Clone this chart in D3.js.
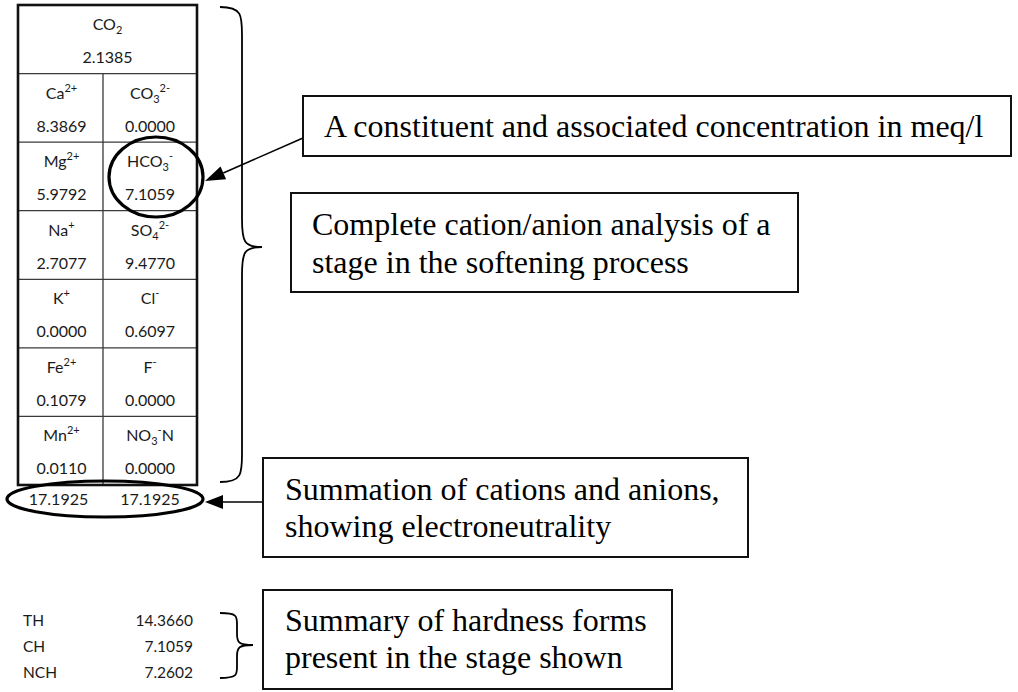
<!DOCTYPE html>
<html>
<head>
<meta charset="utf-8">
<script src="https://cdn.jsdelivr.net/npm/d3@7/dist/d3.min.js"></script>
<style>
  html, body { margin: 0; padding: 0; background: #ffffff; }
  svg { display: block; }
</style>
</head>
<body>
<script>
// ---------- DATA ----------
const headerIon = { base: "CO", sub: "2" };
const headerValue = 2.1385;

const cationIons = [
  { base: "Ca", sup: "2+" },
  { base: "Mg", sup: "2+" },
  { base: "Na", sup: "+" },
  { base: "K", sup: "+" },
  { base: "Fe", sup: "2+" },
  { base: "Mn", sup: "2+" }
];
const cationValues = [8.3869, 5.9792, 2.7077, 0.0000, 0.1079, 0.0110];

const anionIons = [
  { base: "CO", sub: "3", sup: "2-" },
  { base: "HCO", sub: "3", sup: "-" },
  { base: "SO", sub: "4", sup: "2-" },
  { base: "Cl", sup: "-" },
  { base: "F", sup: "-" },
  { base: "NO", sub: "3", sup: "-", tail: "N" }
];
const anionValues = [0.0000, 7.1059, 9.4770, 0.6097, 0.0000, 0.0000];

const sumValues = [17.1925, 17.1925];

const hardnessLabels = ["TH", "CH", "NCH"];
const hardnessValues = [14.3660, 7.1059, 7.2602];

const calloutLines = [
  ["A constituent and associated concentration in meq/l"],
  ["Complete cation/anion analysis of a", "stage in the softening process"],
  ["Summation of cations and anions,", "showing electroneutrality"],
  ["Summary of hardness forms", "present in the stage shown"]
];

// ---------- LAYOUT ----------
const W = 1018, H = 692;
const svg = d3.select("body").append("svg").attr("width", W).attr("height", H);

const tableFont = "Lato, 'Open Sans', sans-serif";
const serifFont = "'Liberation Serif', 'Times New Roman', serif";
const ink = "#1a1a1a";
const fmt = d3.format(".4f");

const table = { x0: 18, x1: 197, y0: 5, y1: 485, divider: 103 };
const rowY = d3.scaleBand().domain(d3.range(7)).range([table.y0, table.y1]);
const colX = d3.scaleOrdinal().domain(["cation", "anion"]).range([
  (table.x0 + table.divider) / 2 + 1,
  (table.divider + table.x1) / 2
]);

function writeIon(textSel, ion) {
  textSel.append("tspan").text(ion.base);
  let shift = 0;
  if (ion.sub) {
    textSel.append("tspan").attr("dy", 4).attr("font-size", 11).text(ion.sub);
    shift += 4;
  }
  if (ion.sup) {
    const d = ion.sub ? -11 : -7;
    textSel.append("tspan").attr("dy", d).attr("font-size", 11).text(ion.sup);
    shift += d;
  }
  if (ion.tail) {
    textSel.append("tspan").attr("dy", -shift).text(ion.tail);
  }
}

const g = svg.append("g");

// inner grid lines
const inner = g.append("g").attr("stroke", "#3a3a3a").attr("stroke-width", 1.3);
d3.range(1, 7).forEach(i => {
  inner.append("line")
    .attr("x1", table.x0).attr("x2", table.x1)
    .attr("y1", rowY(i)).attr("y2", rowY(i));
});
inner.append("line")
  .attr("x1", table.divider).attr("x2", table.divider)
  .attr("y1", rowY(1)).attr("y2", table.y1);

// outer border
g.append("rect")
  .attr("x", table.x0).attr("y", table.y0)
  .attr("width", table.x1 - table.x0).attr("height", table.y1 - table.y0)
  .attr("fill", "none").attr("stroke", "#111").attr("stroke-width", 2.6);

// header CO2
const hdr = g.append("text")
  .attr("x", (table.x0 + table.x1) / 2).attr("y", rowY(0) + 25)
  .attr("text-anchor", "middle").attr("font-family", tableFont)
  .attr("font-size", 16).attr("fill", ink);
writeIon(hdr, headerIon);
g.append("text")
  .attr("x", (table.x0 + table.x1) / 2).attr("y", rowY(0) + 58)
  .attr("text-anchor", "middle").attr("font-family", tableFont)
  .attr("font-size", 16).attr("fill", ink).text(fmt(headerValue));

function drawColumn(ions, values, key) {
  ions.forEach((ion, i) => {
    const top = rowY(i + 1);
    const t = g.append("text")
      .attr("x", colX(key)).attr("y", top + 25)
      .attr("text-anchor", "middle").attr("font-family", tableFont)
      .attr("font-size", 16).attr("fill", ink);
    writeIon(t, ion);
    g.append("text")
      .attr("x", colX(key)).attr("y", top + 58)
      .attr("text-anchor", "middle").attr("font-family", tableFont)
      .attr("font-size", 16).attr("fill", ink).text(fmt(values[i]));
  });
}
drawColumn(cationIons, cationValues, "cation");
drawColumn(anionIons, anionValues, "anion");

// sums
sumValues.forEach((v, i) => {
  g.append("text")
    .attr("x", colX(i === 0 ? "cation" : "anion") - (i === 0 ? 3 : 0)).attr("y", 505)
    .attr("text-anchor", "middle").attr("font-family", tableFont)
    .attr("font-size", 16).attr("fill", ink).text(fmt(v));
});

// ellipses
g.append("ellipse").attr("cx", 156).attr("cy", 177).attr("rx", 47).attr("ry", 40)
  .attr("fill", "none").attr("stroke", "#000").attr("stroke-width", 3.2);
g.append("ellipse").attr("cx", 105).attr("cy", 499).attr("rx", 98).attr("ry", 18)
  .attr("fill", "none").attr("stroke", "#000").attr("stroke-width", 3.2);

// hardness summary
const hY = d3.scalePoint().domain(hardnessLabels).range([626, 678]);
hardnessLabels.forEach((lab, i) => {
  g.append("text").attr("x", 23).attr("y", hY(lab))
    .attr("font-family", tableFont).attr("font-size", 15.5).attr("fill", ink).text(lab);
  g.append("text").attr("x", 193).attr("y", hY(lab)).attr("text-anchor", "end")
    .attr("font-family", tableFont).attr("font-size", 15.5).attr("fill", ink).text(fmt(hardnessValues[i]));
});

// braces
function brace(x0, xv, xt, y0, y1, yt, r) {
  return `M${x0},${y0} C${xv},${y0} ${xv},${y0 + r * 0.3} ${xv},${y0 + r}` +
    ` L${xv},${yt - r}` +
    ` C${xv},${yt - r * 0.2} ${xv + 2},${yt} ${xt},${yt}` +
    ` C${xv + 2},${yt} ${xv},${yt + r * 0.2} ${xv},${yt + r}` +
    ` L${xv},${y1 - r}` +
    ` C${xv},${y1 - r * 0.3} ${xv},${y1} ${x0},${y1}`;
}
g.append("path").attr("d", brace(220, 242, 262, 7, 482, 247, 28))
  .attr("fill", "none").attr("stroke", "#000").attr("stroke-width", 1.8);
g.append("path").attr("d", brace(220, 237, 253, 613, 678, 645, 11))
  .attr("fill", "none").attr("stroke", "#000").attr("stroke-width", 1.8);

// arrows
function arrow(x1, y1, x2, y2, len, half) {
  const a = Math.atan2(y2 - y1, x2 - x1);
  const bx = x2 - len * Math.cos(a), by = y2 - len * Math.sin(a);
  g.append("line").attr("x1", x1).attr("y1", y1).attr("x2", bx).attr("y2", by)
    .attr("stroke", "#000").attr("stroke-width", 1.6);
  const px = -Math.sin(a) * half, py = Math.cos(a) * half;
  g.append("path")
    .attr("d", `M${x2},${y2} L${bx + px},${by + py} L${bx - px},${by - py} Z`)
    .attr("fill", "#000");
}
arrow(303, 138, 205, 181, 20, 7);
arrow(263, 502, 205, 502, 18, 7);

// callout boxes
const boxes = [
  { x: 303, y: 96, w: 708, h: 60, tx: 324, ty: [137] },
  { x: 291, y: 193, w: 507, h: 99, tx: 312, ty: [235, 273] },
  { x: 263, y: 458, w: 485, h: 99, tx: 285, ty: [500, 537] },
  { x: 263, y: 590, w: 409, h: 99, tx: 285, ty: [631, 668] }
];
boxes.forEach((b, i) => {
  g.append("rect").attr("x", b.x).attr("y", b.y).attr("width", b.w).attr("height", b.h)
    .attr("fill", "#fff").attr("stroke", "#111").attr("stroke-width", 2);
  calloutLines[i].forEach((line, j) => {
    g.append("text").attr("x", b.tx).attr("y", b.ty[j])
      .attr("font-family", serifFont).attr("font-size", 32).attr("fill", "#000")
      .text(line);
  });
});
</script>
</body>
</html>
